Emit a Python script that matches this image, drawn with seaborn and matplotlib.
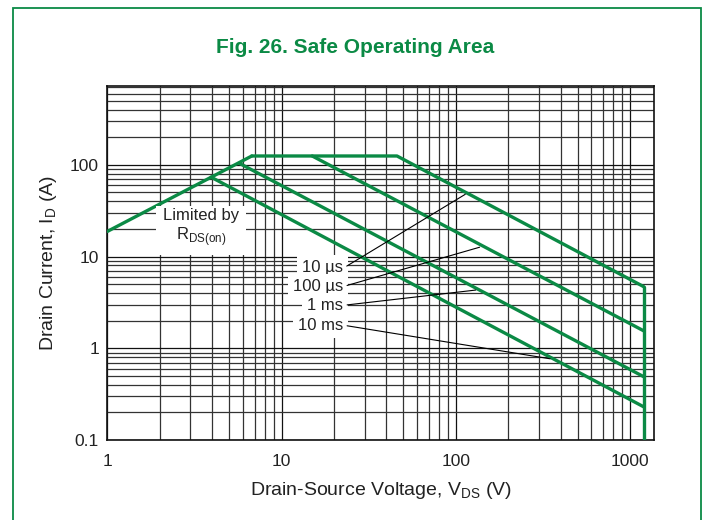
import matplotlib
matplotlib.use("Agg")
import matplotlib.pyplot as plt
import matplotlib.ticker as mticker
from matplotlib.patches import Rectangle
import seaborn as sns

# SOA boundary segments (V in volts, I in amps)
rds_v = [1, 6.75]
rds_i = [18.8, 125]
us10_v = [6.75, 46, 1200]
us10_i = [125, 125, 4.7]
us100_v = [15, 1200]
us100_i = [125, 1.55]
ms1_v = [5.73, 1200]
ms1_i = [104, 0.49]
ms10_v = [3.94, 1200]
ms10_i = [73.5, 0.23]
vmax_v = [1200, 1200]
vmax_i = [4.7, 0.1]

curves = [(rds_v, rds_i), (us10_v, us10_i), (us100_v, us100_i),
          (ms1_v, ms1_i), (ms10_v, ms10_i), (vmax_v, vmax_i)]

# pulse labels: text, label anchor (V, I), point on curve (V, I)
pulse_labels = ["10 µs", "100 µs", "1 ms", "10 ms"]
label_v = [22.5, 22.5, 22.5, 22.5]
label_i = [7.6, 4.75, 2.95, 1.78]
target_v = [117, 142, 135, 361]
target_i = [49.5, 12.9, 4.35, 0.76]

x_ticks = [1, 10, 100, 1000]
y_ticks = [0.1, 1, 10, 100]

GREEN = "#0b8a45"

sns.set_theme(style="white")
plt.rcParams["font.family"] = ["Liberation Sans", "DejaVu Sans"]

fig = plt.figure(figsize=(7.06, 5.2), dpi=100)
ax = fig.add_axes([0.152, 0.1538, 0.7748, 0.6814])

for v, i in curves:
    sns.lineplot(x=v, y=i, ax=ax, color=GREEN, linewidth=2.4, sort=False,
                 estimator=None, zorder=3)

ax.set_xscale("log")
ax.set_yscale("log")
ax.set_xlim(1, 1380)
ax.set_ylim(0.1, 730)

ax.set_xticks(x_ticks)
ax.set_yticks(y_ticks)
fmt = mticker.FuncFormatter(lambda val, pos: f"{val:g}")
ax.xaxis.set_major_formatter(fmt)
ax.yaxis.set_major_formatter(fmt)
ax.xaxis.set_minor_formatter(mticker.NullFormatter())
ax.yaxis.set_minor_formatter(mticker.NullFormatter())
ax.tick_params(which="both", length=0, labelsize=12.5, colors="#222222")
ax.tick_params(axis="x", pad=10)
ax.tick_params(axis="y", pad=6)

ax.grid(which="major", color="#111111", linewidth=0.9)
ax.grid(which="minor", color="#333333", linewidth=0.9)
ax.set_axisbelow(True)
for s in ax.spines.values():
    s.set_color("#111111")
    s.set_linewidth(1.2)

ax.set_xlabel("Drain-Source Voltage, V$_\\mathregular{DS}$ (V)", fontsize=14,
              color="#222222", labelpad=8)
ax.set_ylabel("Drain Current, I$_\\mathregular{D}$ (A)", fontsize=14,
              color="#222222", labelpad=8)

ax.text(3.45, 20.5, "Limited by\nR$_\\mathregular{DS(on)}$", ha="center", va="center",
        fontsize=12, color="#222222", multialignment="center", zorder=4,
        bbox=dict(facecolor="white", edgecolor="none", pad=5))

for txt, lv, li, tv, ti in zip(pulse_labels, label_v, label_i, target_v, target_i):
    ax.text(lv, li, txt, ha="right", va="center", fontsize=12, color="#222222",
            zorder=4, bbox=dict(facecolor="white", edgecolor="none", pad=3.5))
    ax.annotate("", xy=(tv, ti), xytext=(lv * 1.02, li),
                arrowprops=dict(arrowstyle="-", color="black", linewidth=0.8),
                zorder=5)

fig.text(0.503, 0.909, "Fig. 26. Safe Operating Area", ha="center", va="center",
         fontsize=15, fontweight="bold", color=GREEN,
         family=["Liberation Sans Narrow", "Liberation Sans", "DejaVu Sans"])

fig.patches.append(Rectangle((0.018, -0.02), 0.9755, 1.0043, transform=fig.transFigure,
                             fill=False, edgecolor=GREEN, linewidth=1.3))

fig.savefig("out.png", dpi=100)
